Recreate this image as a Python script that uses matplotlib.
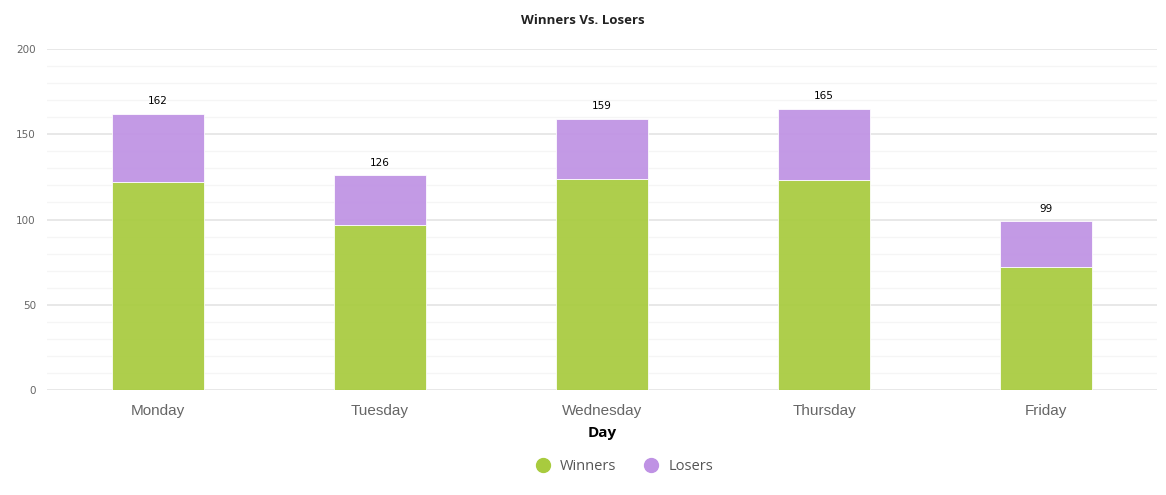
import matplotlib
matplotlib.use("Agg")
import matplotlib.pyplot as plt
from matplotlib.lines import Line2D
from matplotlib.ticker import MultipleLocator

days = ["Monday", "Tuesday", "Wednesday", "Thursday", "Friday"]
winners = [122, 97, 124, 123, 72]
losers = [40, 29, 35, 42, 27]
totals = [162, 126, 159, 165, 99]

green = "#a8cb3e"
purple = "#bf92e4"

fig = plt.figure(figsize=(11.66, 4.95), dpi=100)
ax = fig.add_axes([0.0403, 0.2121, 0.952, 0.6889])

x = list(range(len(days)))
ax.bar(x, winners, width=0.415, color=green, alpha=0.93, edgecolor="white", linewidth=0.6, zorder=3)
ax.bar(x, losers, width=0.415, bottom=winners, color=purple, alpha=0.93, edgecolor="white", linewidth=0.6, zorder=3)

# totals above each stack
for xi, t in zip(x, totals):
    ax.text(xi, t + 4.5, str(t), ha="center", va="bottom", fontsize=7.5, color="black", family="DejaVu Sans")

ax.set_xlim(-0.5, 4.5)
ax.set_ylim(0, 200)
ax.yaxis.set_major_locator(MultipleLocator(50))
ax.yaxis.set_minor_locator(MultipleLocator(10))
ax.grid(axis="y", which="major", color="#e6e6e6", linewidth=1.3, zorder=0)
ax.grid(axis="y", which="minor", color="#f5f5f5", linewidth=1.0, zorder=0)
ax.set_axisbelow(True)

for s in ax.spines.values():
    s.set_visible(False)

ax.set_xticks(x)
ax.set_xticklabels(days, fontsize=11, color="#666666", family="Liberation Sans")
ax.tick_params(axis="x", length=0, pad=10)
ax.tick_params(axis="y", which="both", length=0, labelsize=7.5, labelcolor="#666666", pad=8)
for lab in ax.get_yticklabels():
    lab.set_family("DejaVu Sans")

ax.set_xlabel("Day", fontsize=11, fontweight="bold", family="Open Sans", labelpad=6)
fig.text(0.5, 0.958, "Winners Vs. Losers", ha="center", va="center", fontsize=9.5, fontweight="bold",
         family="Open Sans", color="#222222")

handles = [
    Line2D([0], [0], marker="o", linestyle="", markersize=10, markerfacecolor=green, markeredgecolor=green),
    Line2D([0], [0], marker="o", linestyle="", markersize=10, markerfacecolor=purple, markeredgecolor=purple),
]
leg = fig.legend(handles, ["Winners", "Losers"], loc="center", bbox_to_anchor=(0.535, 0.058), ncol=2,
                 frameon=False, handletextpad=0.6, columnspacing=1.8, handlelength=1.2,
                 prop={"family": "Open Sans", "size": 10.5})
for t in leg.get_texts():
    t.set_color("#555555")

fig.savefig("out.png", dpi=100)
